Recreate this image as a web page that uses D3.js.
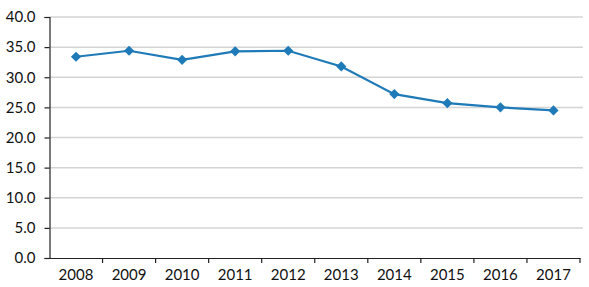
<!DOCTYPE html>
<html>
<head>
<meta charset="utf-8">
<script src="https://cdn.jsdelivr.net/npm/d3@7"></script>
<style>
  body { margin: 0; background: #fff; }
  text { font-family: Lato, "Open Sans", sans-serif; fill: #111; }
</style>
</head>
<body>
<div id="viz"></div>
<script>
const years = ["2008", "2009", "2010", "2011", "2012", "2013", "2014", "2015", "2016", "2017"];
const values = [33.4, 34.4, 32.9, 34.3, 34.4, 31.8, 27.2, 25.7, 25.0, 24.5];
const yTicks = [0, 5, 10, 15, 20, 25, 30, 35, 40];

const width = 589;
const height = 287;
const margin = { left: 49.5, right: 9, top: 17, bottom: 29 };

const svg = d3.select("#viz").append("svg")
    .attr("width", width)
    .attr("height", height);

const xScale = d3.scaleBand()
    .domain(years)
    .range([margin.left, width - margin.right]);

const yScale = d3.scaleLinear()
    .domain([0, 40])
    .range([height - margin.bottom, margin.top]);

// gridlines
svg.append("g")
    .selectAll("line")
    .data(yTicks.filter(d => d > 0))
    .join("line")
        .attr("x1", margin.left)
        .attr("x2", width - margin.right + 3)
        .attr("y1", d => yScale(d))
        .attr("y2", d => yScale(d))
        .attr("stroke", "#d4d4d4")
        .attr("stroke-width", 1.5);

const yAxis = svg.append("g")
    .attr("transform", `translate(${margin.left},0)`)
    .call(d3.axisLeft(yScale).tickValues(yTicks).tickFormat(d3.format(".1f")).tickSize(5).tickPadding(9));
yAxis.selectAll("text").style("font-size", "15px");
yAxis.selectAll("path, line").attr("stroke", "#222").attr("stroke-width", 1.2);

const xAxis = svg.append("g")
    .attr("transform", `translate(0,${height - margin.bottom})`)
    .call(d3.axisBottom(xScale).tickSize(0).tickPadding(8));
xAxis.select(".domain").attr("stroke", "#222").attr("stroke-width", 1.2);
xAxis.selectAll("text").style("font-size", "15px").attr("dy", "0.9em");

// category boundary ticks
svg.append("g")
    .selectAll("line")
    .data(years.slice(1).concat(["end"]))
    .join("line")
        .attr("x1", (d, i) => xScale(years[0]) + xScale.step() * (i + 1))
        .attr("x2", (d, i) => xScale(years[0]) + xScale.step() * (i + 1))
        .attr("y1", height - margin.bottom)
        .attr("y2", height - margin.bottom + 5)
        .attr("stroke", "#222")
        .attr("stroke-width", 1.2);

const line = d3.line()
    .x((d, i) => xScale(years[i]) + xScale.bandwidth() / 2)
    .y(d => yScale(d));

svg.append("path")
    .datum(values)
    .attr("fill", "none")
    .attr("stroke", "#1f7ab8")
    .attr("stroke-width", 2.2)
    .attr("d", line);

svg.append("g")
    .selectAll("path")
    .data(values)
    .join("path")
        .attr("d", d3.symbol(d3.symbolSquare, 52))
        .attr("transform", (d, i) => `translate(${xScale(years[i]) + xScale.bandwidth() / 2},${yScale(d)}) rotate(45)`)
        .attr("fill", "#1f7ab8");
</script>
</body>
</html>
